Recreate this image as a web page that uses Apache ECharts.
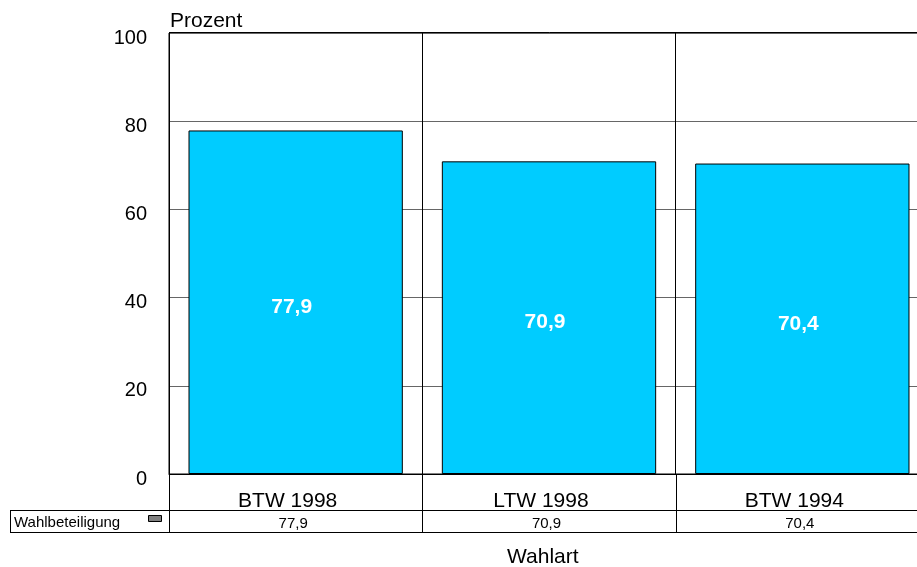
<!DOCTYPE html>
<html><head><meta charset="utf-8">
<script src="https://cdn.jsdelivr.net/npm/echarts@6/dist/echarts.min.js"></script>
<style>html,body{margin:0;padding:0;background:#fff;overflow:hidden}#c{width:930px;height:567px}</style>
</head><body><div id="c"></div>
<script>
const categories = ['BTW 1998', 'LTW 1998', 'BTW 1994'];
const values = [77.9, 70.9, 70.4];
const seriesName = 'Wahlbeteiligung';
const yTicks = [0, 20, 40, 60, 80, 100];

const fmt = v => String(v).replace('.', ',');
const FONT = '"Liberation Sans", Arial, sans-serif';
const G = {left: 169, top: 33, width: 760, height: 441};
const chart = echarts.init(document.getElementById('c'));
chart.setOption({
  animation: false,
  textStyle: {fontFamily: FONT},
  grid: {left: G.left, top: G.top, width: G.width, height: G.height, show: true, borderColor: '#000', borderWidth: 1},
  xAxis: [{
    type: 'category', data: categories, position: 'bottom',
    axisLine: {show: true, lineStyle: {color: '#000', width: 1}},
    axisTick: {show: false},
    axisLabel: {color: '#000', fontSize: 21, margin: 17, fontFamily: FONT, padding: [0, 16, 0, 0]},
    splitLine: {show: true, lineStyle: {color: '#000', width: 1}}
  }, {
    type: 'category', data: values.map(fmt), position: 'bottom', offset: 36,
    axisLine: {show: false}, axisTick: {show: false},
    axisLabel: {color: '#000', fontSize: 15, margin: 6, fontFamily: FONT, padding: [0, 5, 0, 0]},
    splitLine: {show: false}
  }],
  yAxis: {
    type: 'value', min: yTicks[0], max: yTicks[yTicks.length - 1], interval: 20,
    name: 'Prozent', nameLocation: 'end', nameGap: 1,
    nameTextStyle: {color: '#000', fontSize: 21, align: 'left', fontFamily: FONT, padding: [0, 0, 0, 1]},
    axisLine: {show: true, lineStyle: {color: '#000'}}, axisTick: {show: false},
    axisLabel: {color: '#000', fontSize: 20, margin: 22, fontFamily: FONT, verticalAlign: 'top', lineHeight: 10},
    splitLine: {show: true, lineStyle: {color: '#666', width: 1}}
  },
  series: [{
    type: 'bar', name: seriesName, data: values, barCategoryGap: '15.4%',
    itemStyle: {color: '#00CCFF', borderColor: '#000', borderWidth: 1},
    label: {show: true, position: 'inside', offset: [-4, 5], color: '#fff', fontWeight: 'bold', fontSize: 21, fontFamily: FONT, formatter: p => fmt(p.value)}
  }]
});

// data table lines
const bounds = [];
const x0 = chart.convertToPixel({xAxisIndex: 0}, categories[0]);
const x1 = chart.convertToPixel({xAxisIndex: 0}, categories[1]);
const step = x1 - x0;
for (let i = 0; i < categories.length; i++) bounds.push(Math.round(x0 - step / 2 + i * step) + 0.5);
const yBase = Math.round(chart.convertToPixel({yAxisIndex: 0}, 0));
const yTop = Math.round(chart.convertToPixel({yAxisIndex: 0}, 100));
const rowTop = yBase + 36, rowBot = yBase + 58;
const els = [];
const ls = {stroke: '#000', lineWidth: 1};
els.push({type: 'line', shape: {x1: G.left, y1: yTop - 0.5, x2: 930, y2: yTop - 0.5}, style: ls});
els.push({type: 'line', shape: {x1: 10, y1: rowTop + 0.5, x2: 930, y2: rowTop + 0.5}, style: ls});
els.push({type: 'line', shape: {x1: 10, y1: rowBot + 0.5, x2: 930, y2: rowBot + 0.5}, style: ls});
els.push({type: 'line', shape: {x1: 10.5, y1: rowTop, x2: 10.5, y2: rowBot}, style: ls});
bounds.forEach(b => els.push({type: 'line', shape: {x1: b, y1: yBase, x2: b, y2: rowBot}, style: ls}));
els.push({type: 'text', left: 14, top: rowTop + 5, style: {text: seriesName, fill: '#000', font: '15px ' + FONT}});
els.push({type: 'rect', shape: {x: 148.5, y: rowTop + 5.5, width: 13, height: 6}, style: {fill: '#808080', stroke: '#000', lineWidth: 1}});
els.push({type: 'text', left: 507, top: 547, style: {text: 'Wahlart', fill: '#000', font: '21px ' + FONT}});
chart.setOption({graphic: {elements: els}});
</script></body></html>
